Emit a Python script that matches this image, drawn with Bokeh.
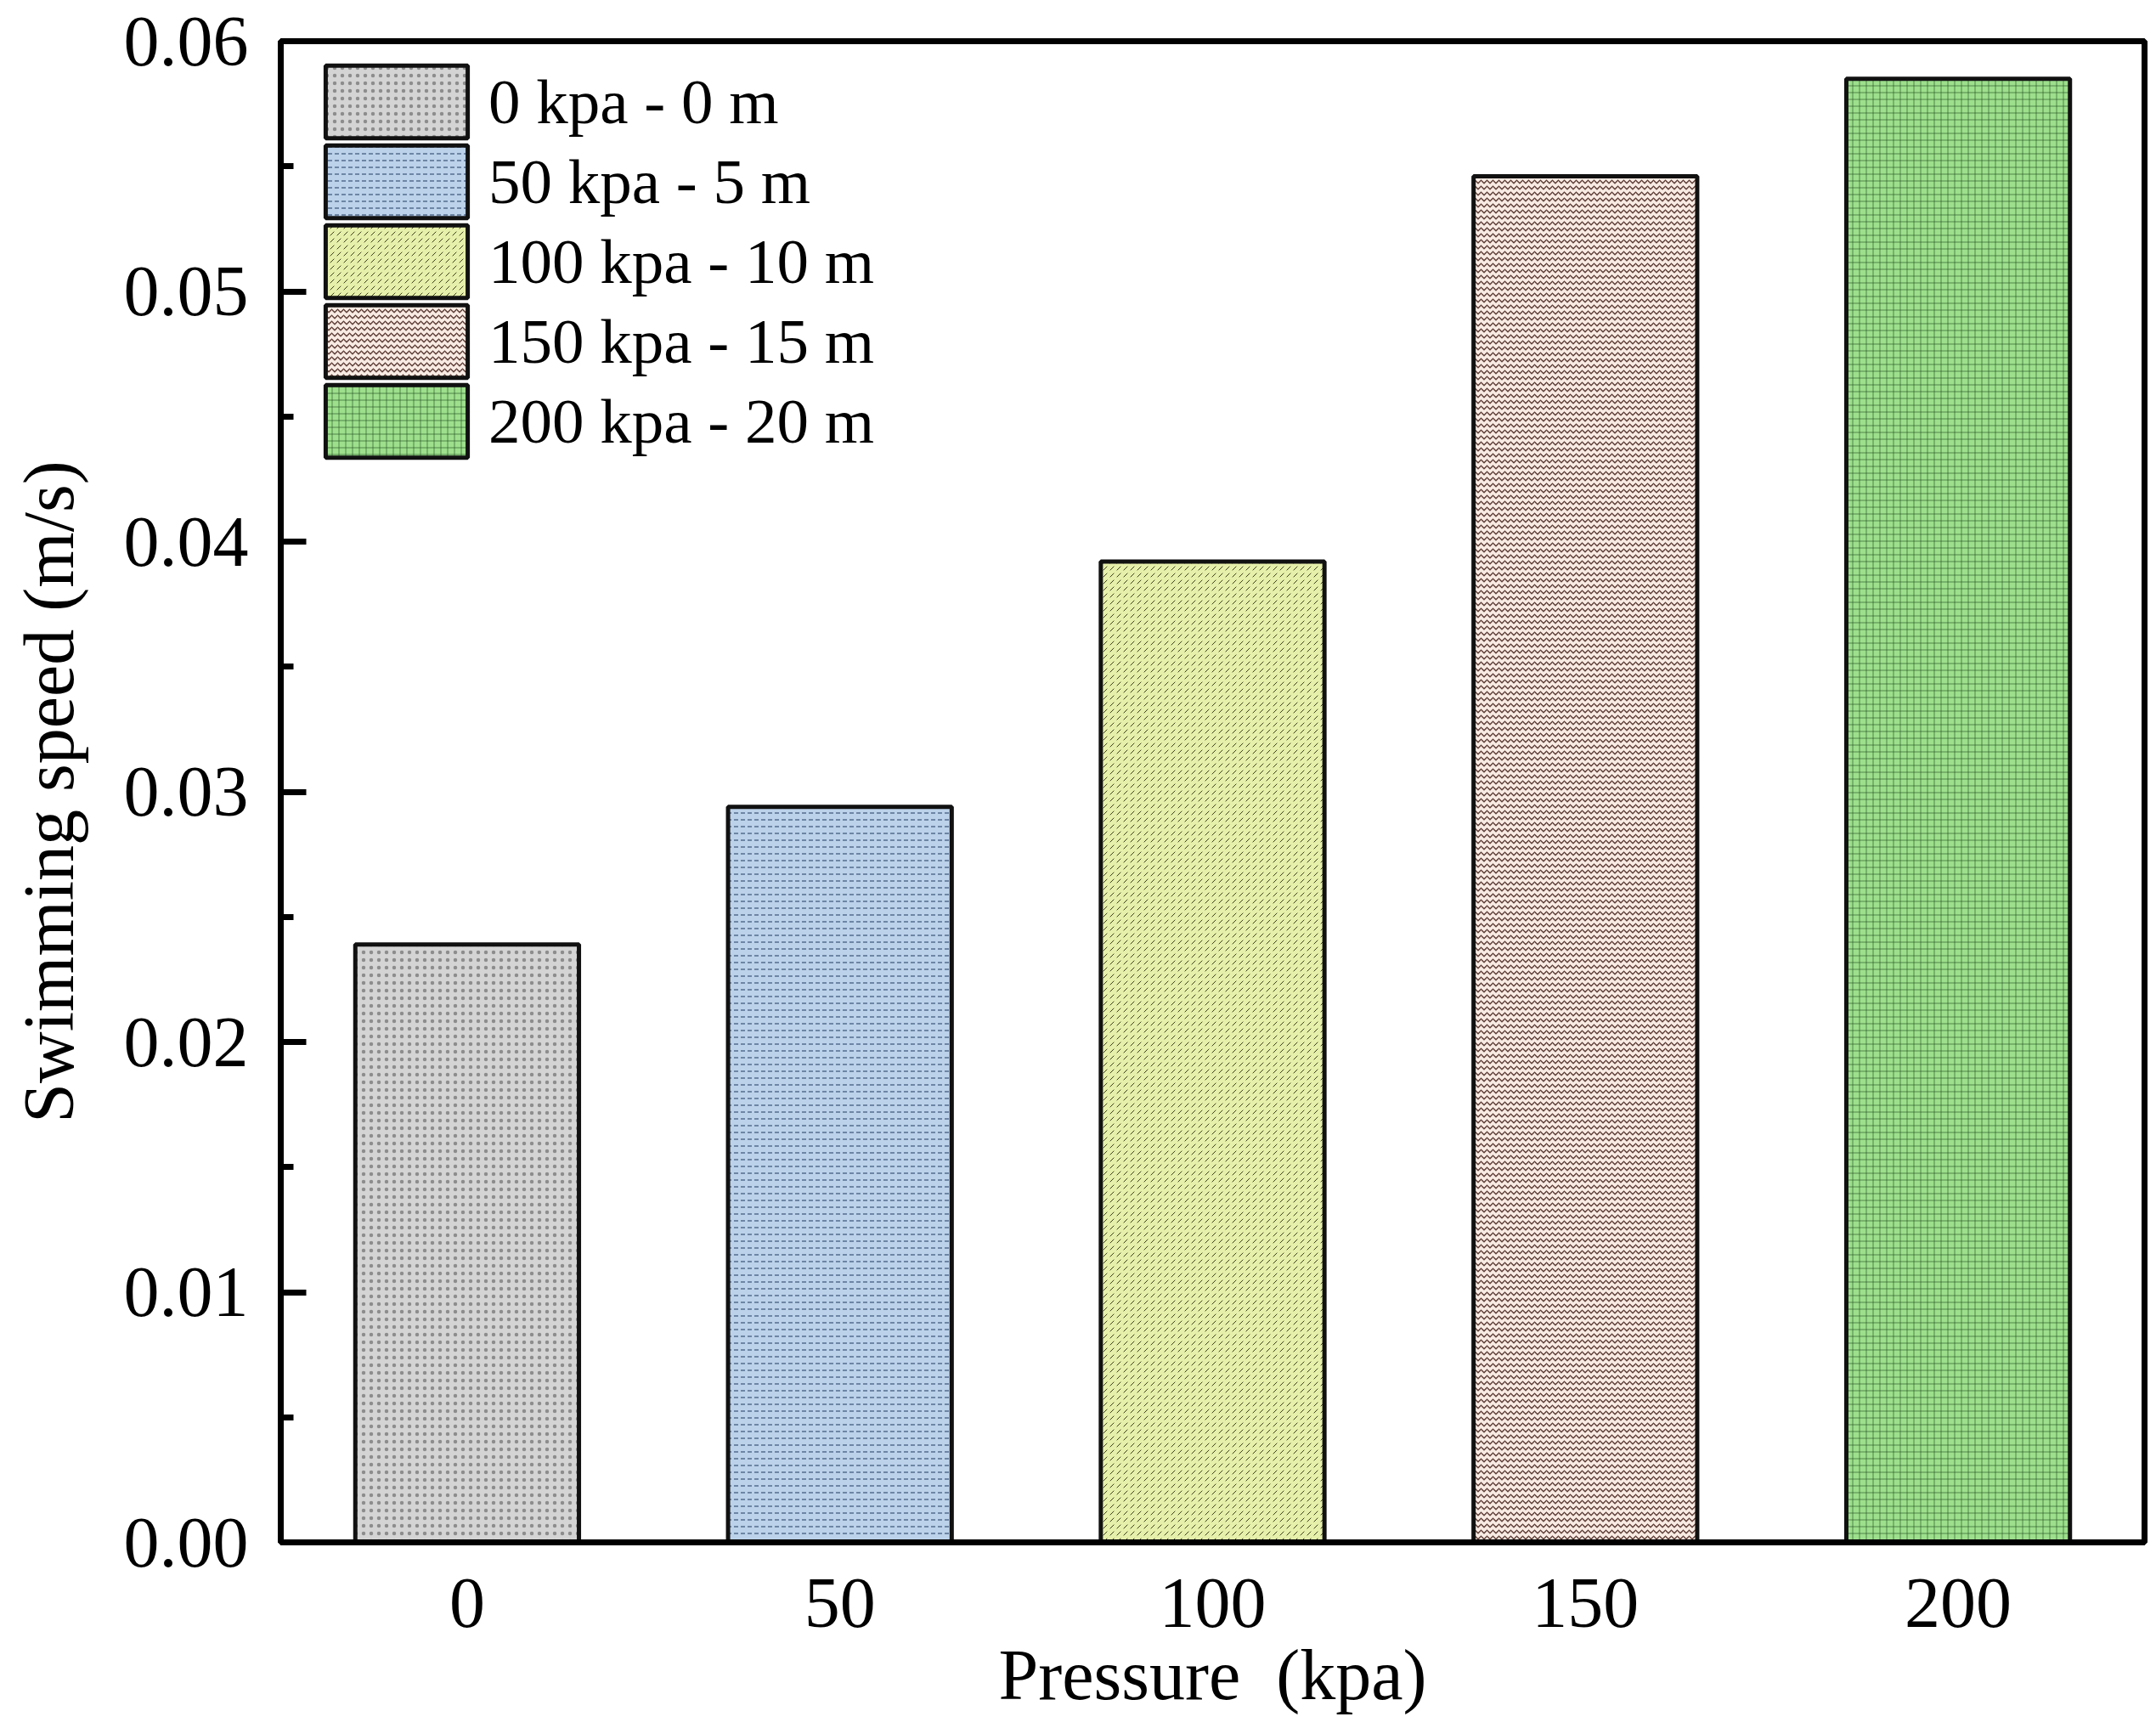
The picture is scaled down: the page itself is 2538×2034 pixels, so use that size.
from bokeh.plotting import figure
from bokeh.models import Range1d, FixedTicker, PrintfTickFormatter, Legend, LegendItem
from bokeh.embed import file_html
from bokeh.resources import INLINE

# ---- data ----
pressures = [0, 50, 100, 150, 200]
speeds = [0.0239, 0.0294, 0.0392, 0.0546, 0.0585]
legend_labels = ["0 kpa - 0 m", "50 kpa - 5 m", "100 kpa - 10 m", "150 kpa - 15 m", "200 kpa - 20 m"]
y_ticks = [0.0, 0.01, 0.02, 0.03, 0.04, 0.05, 0.06]
y_minor = [0.005, 0.015, 0.025, 0.035, 0.045, 0.055]
x_ticks = [0, 50, 100, 150, 200]
x_title = "Pressure \u00a0(kpa)"
y_title = "Swimming speed (m/s)"

# ---- styles ----
fill_colors = ["#d4d4d4", "#bcd2ea", "#e6f0aa", "#f8ebe3", "#9ddf8c"]
hatch_colors = ["#222222", "#1f3a5f", "#3d3d1e", "#5b3b34", "#1e4a1e"]
hatch_patterns = ["dot", "horizontal_dash", "right_diagonal_dash", "horizontal_wave", "cross"]
hatch_scales = [9, 8, 8, 7, 8]
hatch_weights = [1, 1, 1, 1.4, 1]
hatch_alphas = [0.4, 1.0, 1.0, 1.0, 0.6]

FONT = "Liberation Serif"
FRAME_H = 1815 - 48

p = figure(width=2538, height=2034, output_backend="svg", toolbar_location=None,
           x_range=Range1d(-25, 225), y_range=Range1d(0, 0.06),
           min_border_left=330, min_border_right=14, min_border_top=48, min_border_bottom=219)
p.background_fill_color = "white"
p.border_fill_color = "white"
p.outline_line_color = "black"
p.outline_line_width = 7
p.xgrid.visible = False
p.ygrid.visible = False

renderers = []
for i in range(len(pressures)):
    r = p.vbar(x=[pressures[i]], top=[speeds[i]], width=30, bottom=0,
               fill_color=fill_colors[i], line_color="#111111", line_width=5,
               hatch_pattern=hatch_patterns[i], hatch_color=hatch_colors[i],
               hatch_scale=hatch_scales[i], hatch_weight=hatch_weights[i],
               hatch_alpha=hatch_alphas[i])
    renderers.append(r)

# one legend per entry so the entries can be stacked tightly (pitch 94 px)
for i in range(len(renderers)):
    vy = FRAME_H - (18 + 94 * i) - 107
    leg = Legend(items=[LegendItem(label=legend_labels[i], renderers=[renderers[i]])],
                 location=(32, vy), margin=0, padding=0, spacing=0,
                 glyph_width=209, glyph_height=107, label_height=80, label_standoff=4,
                 label_text_font=FONT, label_text_font_size="75px", label_text_color="black",
                 border_line_color=None, background_fill_alpha=0)
    p.add_layout(leg, "center")

# y axis
ya = p.yaxis[0]
ya.ticker = FixedTicker(ticks=y_ticks, minor_ticks=y_minor)
ya.formatter = PrintfTickFormatter(format="%.2f")
ya.axis_label = y_title
ya.axis_label_text_font = FONT
ya.axis_label_text_font_size = "84px"
ya.axis_label_text_font_style = "normal"
ya.axis_label_text_color = "black"
ya.axis_label_standoff = 39
ya.major_label_text_font = FONT
ya.major_label_text_font_size = "84px"
ya.major_label_text_color = "black"
ya.major_label_standoff = 38
ya.axis_line_width = 7
ya.axis_line_color = "black"
ya.major_tick_in = 30
ya.major_tick_out = 0
ya.minor_tick_in = 15
ya.minor_tick_out = 0
ya.major_tick_line_width = 7
ya.minor_tick_line_width = 7
ya.major_tick_line_color = "black"
ya.minor_tick_line_color = "black"

# x axis
xa = p.xaxis[0]
xa.ticker = FixedTicker(ticks=x_ticks)
xa.axis_label = x_title
xa.axis_label_text_font = FONT
xa.axis_label_text_font_size = "84px"
xa.axis_label_text_font_style = "normal"
xa.axis_label_text_color = "black"
xa.axis_label_standoff = 7
xa.major_label_text_font = FONT
xa.major_label_text_font_size = "84px"
xa.major_label_text_color = "black"
xa.major_label_standoff = 37
xa.axis_line_width = 7
xa.axis_line_color = "black"
xa.major_tick_line_color = None
xa.minor_tick_line_color = None

open("out.html", "w").write(file_html(p, INLINE))
